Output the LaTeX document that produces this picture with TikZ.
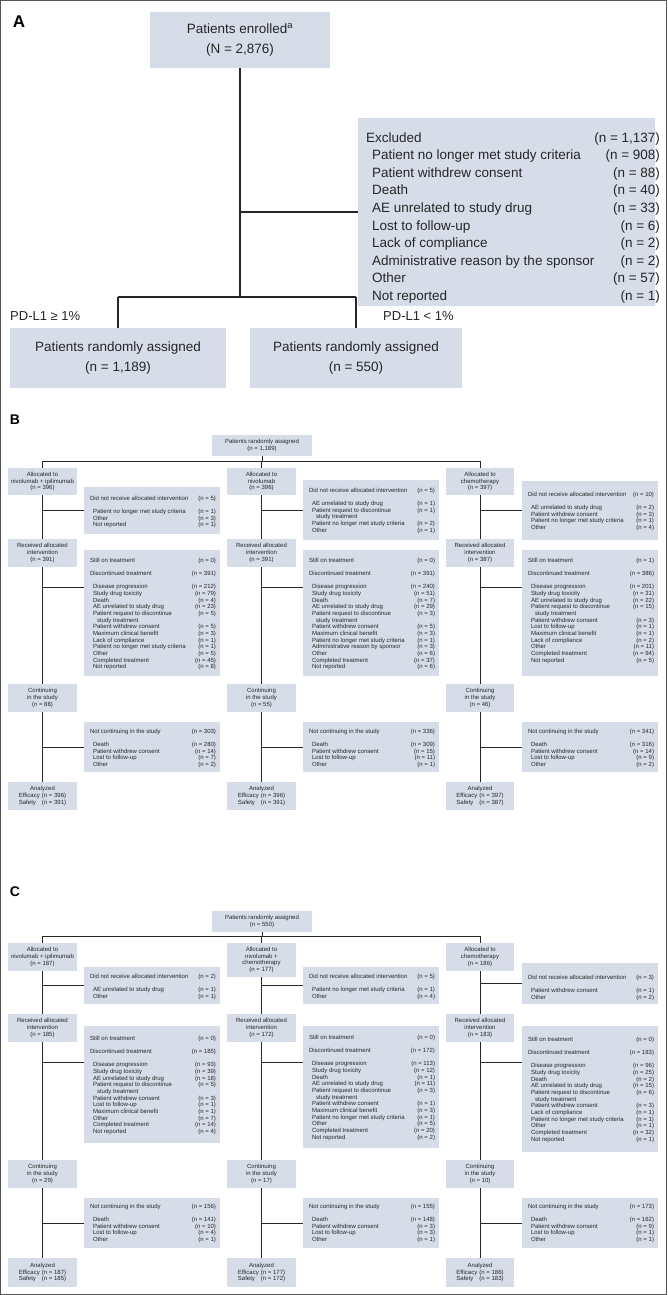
\documentclass[tikz,border=0pt]{standalone}
\usepackage{fontspec}
\setmainfont{Liberation Sans}
\usetikzlibrary{fit}
\definecolor{boxfill}{HTML}{D6DDE9}
\definecolor{ink}{HTML}{262626}
\definecolor{framec}{HTML}{555555}
\pgfdeclarelayer{bg}
\pgfsetlayers{bg,main}

\newcommand\sfz{\fontsize{6}{6.67}\selectfont}
\newcommand\afz{\fontsize{13.5}{17.6}\selectfont}
\newcommand\hd[2]{#1 & #2\\}
\newcommand\itm[2]{\hspace{3pt}#1 & #2\\}
\newcommand\ctn[1]{\hspace{7pt}#1 & \\}
\newcommand\gp{ & \\}
\newcommand\an[2]{\makebox[23pt][l]{#1}#2}

\tikzset{
  bx/.style={fill=boxfill, draw=none, inner sep=0pt, outer sep=0pt},
  lt/.style={inner sep=0pt, outer sep=0pt, text=ink, font=\sfz},
  st/.style={inner sep=0pt, outer sep=0pt, text=ink, font=\sfz, align=center},
  stA/.style={inner sep=0pt, outer sep=0pt, text=ink, font=\fontsize{13.5}{20}\selectfont, align=center},
  lab/.style={inner sep=0pt, text=black, font=\fontsize{14}{16}\selectfont\bfseries},
  conn/.style={draw=ink, line width=1pt},
  connA/.style={draw=ink, line width=1.4pt},
}

% list box: name, x1, y1, x2, y2, first-row centre y, rows
\newcommand\lbx[7]{%
  \node[bx, fit={(#2,#3) (#4,#5)}] (#1) {};
  \node[lt, anchor=north west] (#1t) at (#2+6,#6-2.4)
    {\begin{tabular*}{\dimexpr #4pt-#2pt-10pt\relax}{@{}l@{\extracolsep{\fill}}r@{}}#7\end{tabular*}};}
% small centred box: name, x1, y1, x2, y2, text
\newcommand\sbx[6]{%
  \node[bx, fit={(#2,#3) (#4,#5)}] (#1) {};
  \node[st] (#1t) at (#1.center) {#6};}

\begin{document}
\begin{tikzpicture}[x=1pt, y=-1pt]
\useasboundingbox (0,0) rectangle (668,1295);
\draw[framec, line width=0.8pt] (0.5,0.5) rectangle (666,1294.5);

% ---------------- Panel A ----------------
\node[lab, font=\fontsize{17}{19}\selectfont\bfseries] (labA) at (19,22) {A};
\node[bx, fit={(150,12) (330,68)}] (enr) {};
\node[stA] (enrt) at (enr.center) {Patients enrolled\textsuperscript{a}\\(N = 2,876)};
\node[bx, fit={(358,118) (655,306)}] (exc) {};
\node[inner sep=0pt, text=ink, font=\afz, anchor=north west] (exct) at (366,129.5)
 {\begin{tabular*}{285pt}{@{}l@{\extracolsep{\fill}}r@{}}
 Excluded & (n = 1,137)\\
 \hspace{6pt}Patient no longer met study criteria & (n = 908)\\
 \hspace{6pt}Patient withdrew consent & (n = 88)\\
 \hspace{6pt}Death & (n = 40)\\
 \hspace{6pt}AE unrelated to study drug & (n = 33)\\
 \hspace{6pt}Lost to follow-up & (n = 6)\\
 \hspace{6pt}Lack of compliance & (n = 2)\\
 \hspace{6pt}Administrative reason by the sponsor & (n = 2)\\
 \hspace{6pt}Other & (n = 57)\\
 \hspace{6pt}Not reported & (n = 1)
 \end{tabular*}};
\node[bx, fit={(10,328) (226,388)}] (rl) {};
\node[stA] (rlt) at (rl.center) {Patients randomly assigned\\(n = 1,189)};
\node[bx, fit={(250,328) (462,388)}] (rr) {};
\node[stA] (rrt) at (rr.center) {Patients randomly assigned\\(n = 550)};
\node[inner sep=0pt, text=ink, font=\fontsize{13}{15}\selectfont, anchor=west] (pdl) at (10,316) {PD-L1 ≥ 1\%};
\node[inner sep=0pt, text=ink, font=\fontsize{13}{15}\selectfont, anchor=west] (pdr) at (383,316) {PD-L1 < 1\%};
\coordinate (asplit) at (239,297);

% ---------------- Panel B ----------------
\node[lab] (labB) at (15,420) {B};
\sbx{Bti}{212}{435}{312}{456}{Patients randomly assigned\\(n = 1,189)}
\coordinate (Bh) at (0,461);

\sbx{B1al}{8}{468}{77}{495}{Allocated to\\nivolumab + ipilimumab\\(n = 396)}
\lbx{B1dn}{84}{487}{220}{534}{498}{\hd{Did not receive allocated intervention}{(n = 5)}\gp\itm{Patient no longer met study criteria}{(n = 1)}\itm{Other}{(n = 3)}\itm{Not reported}{(n = 1)}}
\sbx{B1rc}{8}{539}{77}{567}{Received allocated\\intervention\\(n = 391)}
\lbx{B1dc}{84}{550}{220}{676}{560}{\hd{Still on treatment}{(n = 0)}\gp\hd{Discontinued treatment}{(n = 391)}\gp\itm{Disease progression}{(n = 212)}\itm{Study drug toxicity}{(n = 79)}\itm{Death}{(n = 4)}\itm{AE unrelated to study drug}{(n = 23)}\itm{Patient request to discontinue}{(n = 5)}\ctn{study treatment}\itm{Patient withdrew consent}{(n = 5)}\itm{Maximum clinical benefit}{(n = 3)}\itm{Lack of compliance}{(n = 1)}\itm{Patient no longer met study criteria}{(n = 1)}\itm{Other}{(n = 5)}\itm{Completed treatment}{(n = 45)}\itm{Not reported}{(n = 8)}}
\sbx{B1co}{8}{684}{77}{712}{Continuing\\in the study\\(n = 88)}
\lbx{B1nc}{84}{722}{220}{772}{731}{\hd{Not continuing in the study}{(n = 303)}\gp\itm{Death}{(n = 280)}\itm{Patient withdrew consent}{(n = 14)}\itm{Lost to follow-up}{(n = 7)}\itm{Other}{(n = 2)}}
\sbx{B1an}{8}{782}{77}{810}{Analyzed\\\an{Efficacy}{(n = 396)}\\\an{Safety}{(n = 391)}}

\sbx{B2al}{227}{468}{296}{495}{Allocated to\\nivolumab\\(n = 396)}
\lbx{B2dn}{303}{480}{439}{540}{490}{\hd{Did not receive allocated intervention}{(n = 5)}\gp\itm{AE unrelated to study drug}{(n = 1)}\itm{Patient request to discontinue}{(n = 1)}\ctn{study treatment}\itm{Patient no longer met study criteria}{(n = 2)}\itm{Other}{(n = 1)}}
\sbx{B2rc}{227}{539}{296}{567}{Received allocated\\intervention\\(n = 391)}
\lbx{B2dc}{303}{550}{439}{676}{560}{\hd{Still on treatment}{(n = 0)}\gp\hd{Discontinued treatment}{(n = 391)}\gp\itm{Disease progression}{(n = 240)}\itm{Study drug toxicity}{(n = 51)}\itm{Death}{(n = 7)}\itm{AE unrelated to study drug}{(n = 29)}\itm{Patient request to discontinue}{(n = 3)}\ctn{study treatment}\itm{Patient withdrew consent}{(n = 5)}\itm{Maximum clinical benefit}{(n = 3)}\itm{Patient no longer met study criteria}{(n = 1)}\itm{Administrative reason by sponsor}{(n = 3)}\itm{Other}{(n = 6)}\itm{Completed treatment}{(n = 37)}\itm{Not reported}{(n = 6)}}
\sbx{B2co}{227}{684}{296}{712}{Continuing\\in the study\\(n = 55)}
\lbx{B2nc}{303}{722}{439}{772}{731}{\hd{Not continuing in the study}{(n = 336)}\gp\itm{Death}{(n = 309)}\itm{Patient withdrew consent}{(n = 15)}\itm{Lost to follow-up}{(n = 11)}\itm{Other}{(n = 1)}}
\sbx{B2an}{227}{782}{296}{810}{Analyzed\\\an{Efficacy}{(n = 396)}\\\an{Safety}{(n = 391)}}

\sbx{B3al}{446}{468}{514}{495}{Allocated to\\chemotherapy\\(n = 397)}
\lbx{B3dn}{522}{481}{658}{540}{494}{\hd{Did not receive allocated intervention}{(n = 10)}\gp\itm{AE unrelated to study drug}{(n = 2)}\itm{Patient withdrew consent}{(n = 3)}\itm{Patient no longer met study criteria}{(n = 1)}\itm{Other}{(n = 4)}}
\sbx{B3rc}{446}{539}{514}{567}{Received allocated\\intervention\\(n = 387)}
\lbx{B3dc}{522}{550}{658}{676}{560}{\hd{Still on treatment}{(n = 1)}\gp\hd{Discontinued treatment}{(n = 386)}\gp\itm{Disease progression}{(n = 201)}\itm{Study drug toxicity}{(n = 31)}\itm{AE unrelated to study drug}{(n = 22)}\itm{Patient request to discontinue}{(n = 15)}\ctn{study treatment}\itm{Patient withdrew consent}{(n = 3)}\itm{Lost to follow-up}{(n = 1)}\itm{Maximum clinical benefit}{(n = 1)}\itm{Lack of compliance}{(n = 2)}\itm{Other}{(n = 11)}\itm{Completed treatment}{(n = 94)}\itm{Not reported}{(n = 5)}}
\sbx{B3co}{446}{684}{514}{712}{Continuing\\in the study\\(n = 46)}
\lbx{B3nc}{522}{722}{658}{772}{731}{\hd{Not continuing in the study}{(n = 341)}\gp\itm{Death}{(n = 316)}\itm{Patient withdrew consent}{(n = 14)}\itm{Lost to follow-up}{(n = 9)}\itm{Other}{(n = 2)}}
\sbx{B3an}{446}{782}{514}{810}{Analyzed\\\an{Efficacy}{(n = 397)}\\\an{Safety}{(n = 387)}}

% ---------------- Panel C ----------------
\node[lab] (labC) at (15,892) {C};
\sbx{Cti}{212}{911}{312}{932}{Patients randomly assigned\\(n = 550)}
\coordinate (Ch) at (0,936);

\sbx{C1al}{8}{943}{77}{971}{Allocated to\\nivolumab + ipilimumab\\(n = 187)}
\lbx{C1dn}{84}{967}{220}{1004}{976}{\hd{Did not receive allocated intervention}{(n = 2)}\gp\itm{AE unrelated to study drug}{(n = 1)}\itm{Other}{(n = 1)}}
\sbx{C1rc}{8}{1014}{77}{1042}{Received allocated\\intervention\\(n = 185)}
\lbx{C1dc}{84}{1026}{220}{1143}{1038}{\hd{Still on treatment}{(n = 0)}\gp\hd{Discontinued treatment}{(n = 185)}\gp\itm{Disease progression}{(n = 93)}\itm{Study drug toxicity}{(n = 39)}\itm{AE unrelated to study drug}{(n = 18)}\itm{Patient request to discontinue}{(n = 5)}\ctn{study treatment}\itm{Patient withdrew consent}{(n = 3)}\itm{Lost to follow-up}{(n = 1)}\itm{Maximum clinical benefit}{(n = 1)}\itm{Other}{(n = 7)}\itm{Completed treatment}{(n = 14)}\itm{Not reported}{(n = 4)}}
\sbx{C1co}{8}{1160}{77}{1188}{Continuing\\in the study\\(n = 29)}
\lbx{C1nc}{84}{1198}{220}{1248}{1206}{\hd{Not continuing in the study}{(n = 156)}\gp\itm{Death}{(n = 141)}\itm{Patient withdrew consent}{(n = 10)}\itm{Lost to follow-up}{(n = 4)}\itm{Other}{(n = 1)}}
\sbx{C1an}{8}{1258}{77}{1287}{Analyzed\\\an{Efficacy}{(n = 187)}\\\an{Safety}{(n = 185)}}

\sbx{C2al}{227}{943}{296}{977}{Allocated to\\nivolumab +\\chemotherapy\\(n = 177)}
\lbx{C2dn}{303}{967}{439}{1004}{976}{\hd{Did not receive allocated intervention}{(n = 5)}\gp\itm{Patient no longer met study criteria}{(n = 1)}\itm{Other}{(n = 4)}}
\sbx{C2rc}{227}{1014}{296}{1042}{Received allocated\\intervention\\(n = 172)}
\lbx{C2dc}{303}{1026}{439}{1148}{1037}{\hd{Still on treatment}{(n = 0)}\gp\hd{Discontinued treatment}{(n = 172)}\gp\itm{Disease progression}{(n = 113)}\itm{Study drug toxicity}{(n = 12)}\itm{Death}{(n = 1)}\itm{AE unrelated to study drug}{(n = 11)}\itm{Patient request to discontinue}{(n = 3)}\ctn{study treatment}\itm{Patient withdrew consent}{(n = 1)}\itm{Maximum clinical benefit}{(n = 3)}\itm{Patient no longer met study criteria}{(n = 1)}\itm{Other}{(n = 5)}\itm{Completed treatment}{(n = 20)}\itm{Not reported}{(n = 2)}}
\sbx{C2co}{227}{1160}{296}{1188}{Continuing\\in the study\\(n = 17)}
\lbx{C2nc}{303}{1198}{439}{1248}{1206}{\hd{Not continuing in the study}{(n = 155)}\gp\itm{Death}{(n = 148)}\itm{Patient withdrew consent}{(n = 3)}\itm{Lost to follow-up}{(n = 3)}\itm{Other}{(n = 1)}}
\sbx{C2an}{227}{1258}{296}{1287}{Analyzed\\\an{Efficacy}{(n = 177)}\\\an{Safety}{(n = 172)}}

\sbx{C3al}{446}{943}{514}{971}{Allocated to\\chemotherapy\\(n = 186)}
\lbx{C3dn}{522}{963}{658}{1004}{977}{\hd{Did not receive allocated intervention}{(n = 3)}\gp\itm{Patient withdrew consent}{(n = 1)}\itm{Other}{(n = 2)}}
\sbx{C3rc}{446}{1014}{514}{1042}{Received allocated\\intervention\\(n = 183)}
\lbx{C3dc}{522}{1026}{658}{1152}{1039}{\hd{Still on treatment}{(n = 0)}\gp\hd{Discontinued treatment}{(n = 183)}\gp\itm{Disease progression}{(n = 96)}\itm{Study drug toxicity}{(n = 25)}\itm{Death}{(n = 2)}\itm{AE unrelated to study drug}{(n = 15)}\itm{Patient request to discontinue}{(n = 6)}\ctn{study treatment}\itm{Patient withdrew consent}{(n = 3)}\itm{Lack of compliance}{(n = 1)}\itm{Patient no longer met study criteria}{(n = 1)}\itm{Other}{(n = 1)}\itm{Completed treatment}{(n = 32)}\itm{Not reported}{(n = 1)}}
\sbx{C3co}{446}{1160}{514}{1188}{Continuing\\in the study\\(n = 10)}
\lbx{C3nc}{522}{1198}{658}{1248}{1206}{\hd{Not continuing in the study}{(n = 173)}\gp\itm{Death}{(n = 162)}\itm{Patient withdrew consent}{(n = 9)}\itm{Lost to follow-up}{(n = 1)}\itm{Other}{(n = 1)}}
\sbx{C3an}{446}{1258}{514}{1287}{Analyzed\\\an{Efficacy}{(n = 186)}\\\an{Safety}{(n = 183)}}

% ---------------- Connectors ----------------
\begin{pgfonlayer}{bg}
% A
\draw[connA] (enr.south) -- (enr.south |- asplit);
\draw[connA] (enr.south |- exc.west) -- (exc.west);
\draw[connA] (rl.north |- asplit) -- (rr.north |- asplit);
\draw[connA] (rl.north |- asplit) -- (rl.north);
\draw[connA] (rr.north |- asplit) -- (rr.north);
% B and C
\foreach \P/\H/\D in {B/Bh/587, C/Ch/1062}{
  \draw[conn] (\P ti.south) -- (\P ti.south |- \H);
  \draw[conn] (\P 1al.center |- \H) -- (\P 3al.center |- \H);
  \foreach \k in {1,2,3}{
    \draw[conn] (\P\k al.center |- \H) -- (\P\k an.north);
    \draw[conn] (\P\k al.center |- \P\k dn.west) -- (\P\k dn.west);
    \draw[conn] (\P\k al.center |- 0,\D) -- (\P\k dc.west |- 0,\D);
    \draw[conn] (\P\k al.center |- \P\k nc.west) -- (\P\k nc.west);
  }
}
\end{pgfonlayer}
\end{tikzpicture}
\end{document}
